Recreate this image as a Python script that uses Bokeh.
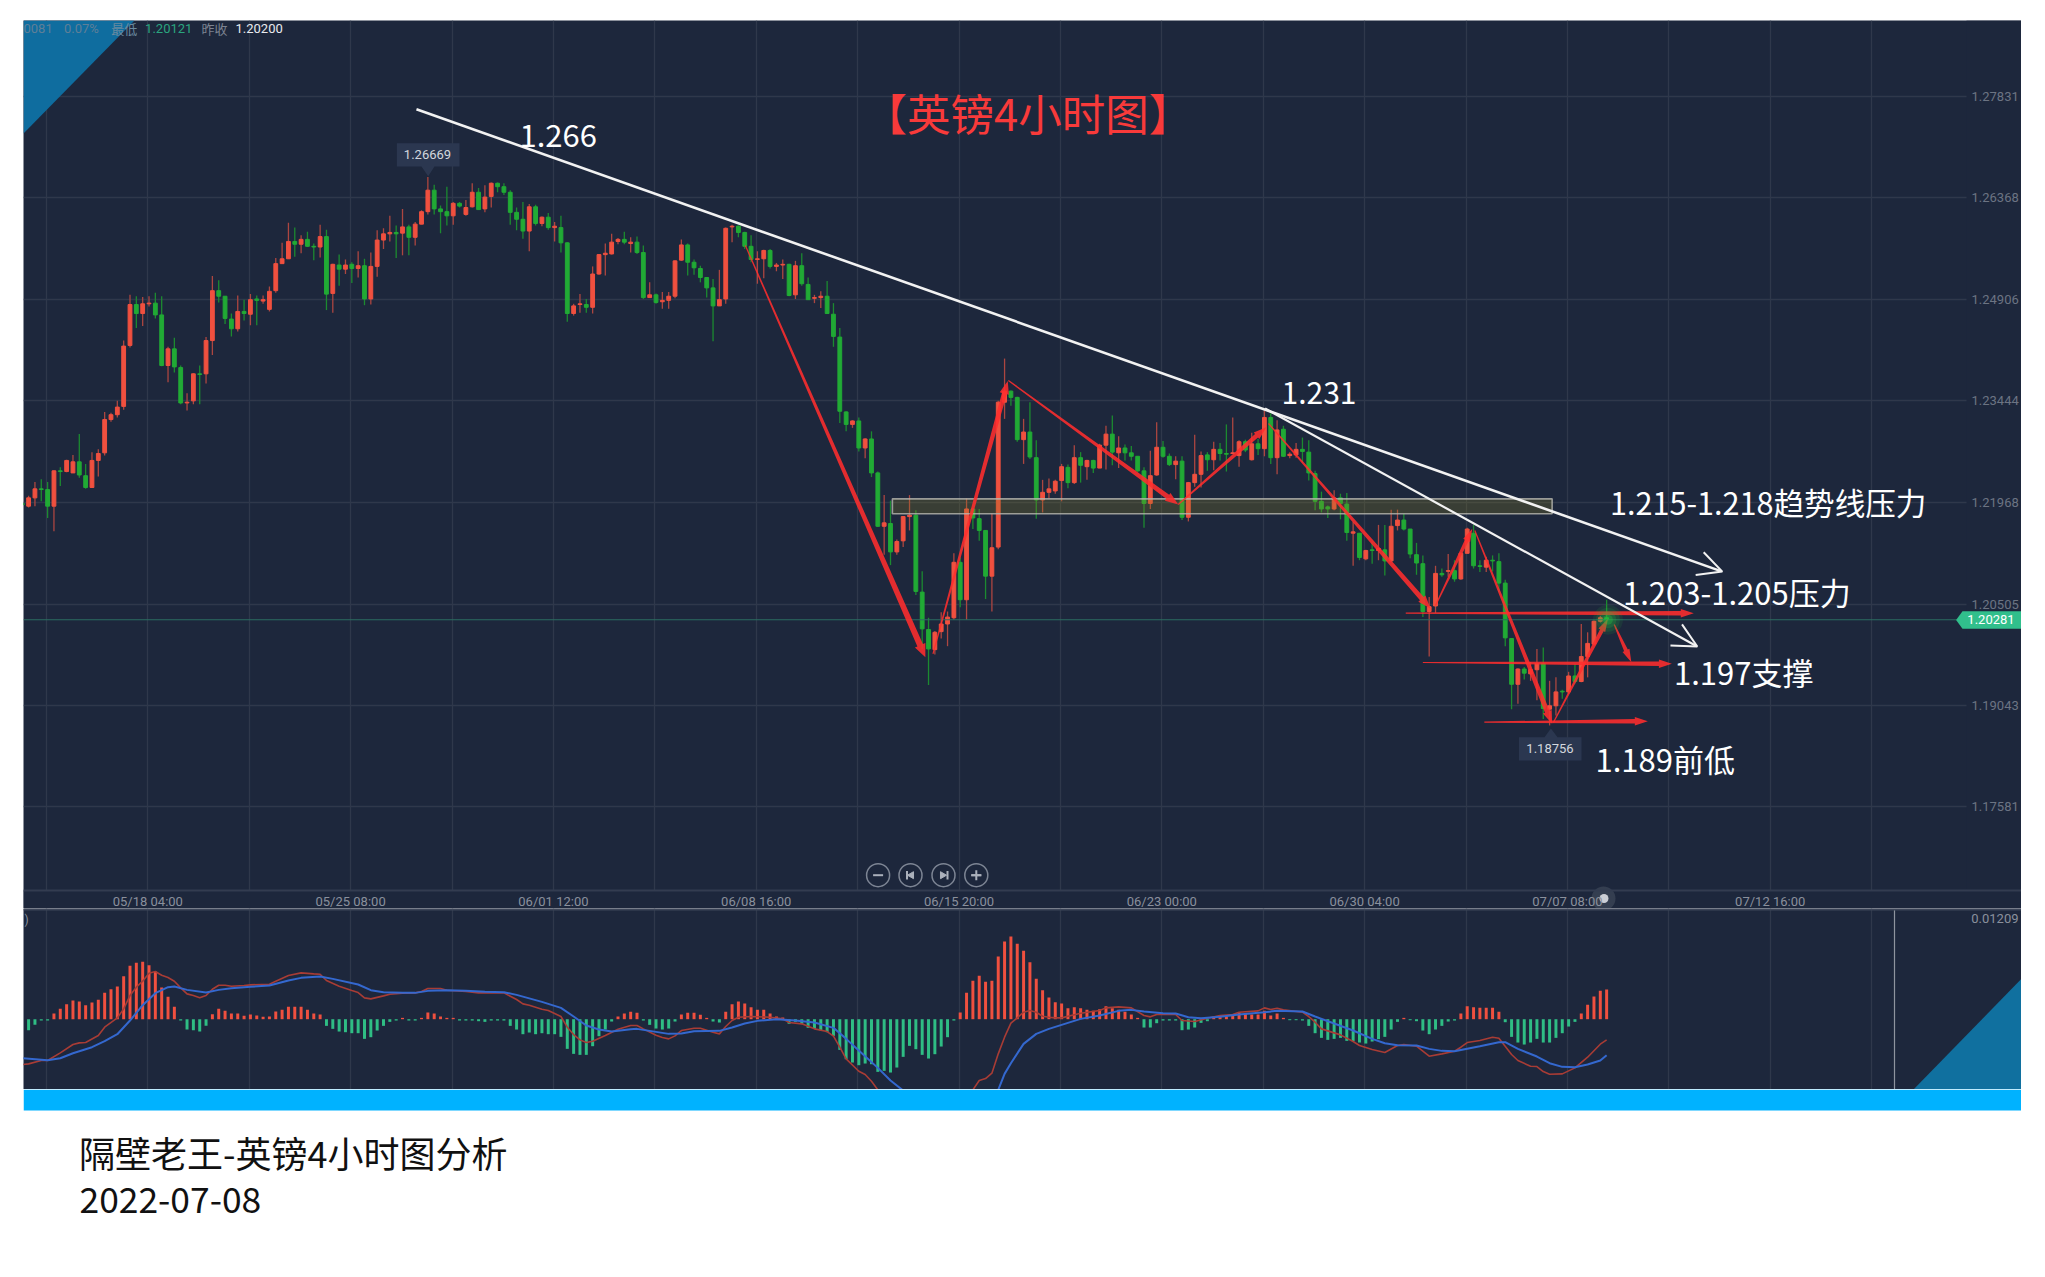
from bokeh.embed import file_html
from bokeh.resources import INLINE
from bokeh.plotting import figure
from bokeh.layouts import column
from bokeh.models import (Range1d, Label, Span, FixedTicker, Arrow, OpenHead, ColumnDataSource)
import math

# ---------------- data ----------------
opens = [1.2196,1.2192,1.2204,1.2217,1.2216,1.2192,1.2243,1.2242,1.2240,1.2256,
1.2236,1.2219,1.2258,1.2269,1.2317,1.2324,1.2336,1.2424,1.2483,1.2470,
1.2484,1.2485,1.2468,1.2395,1.2419,1.2392,1.2341,1.2344,1.2383,1.2383,
1.2431,1.2503,1.2495,1.2462,1.2448,1.2473,1.2469,1.2491,1.2488,1.2476,
1.2503,1.2542,1.2549,1.2574,1.2570,1.2577,1.2567,1.2566,1.2581,1.2499,
1.2540,1.2534,1.2541,1.2535,1.2539,1.2491,1.2538,1.2576,1.2585,1.2587,
1.2586,1.2595,1.2580,1.2599,1.2617,1.2648,1.2621,1.2617,1.2611,1.2629,
1.2613,1.2624,1.2645,1.2621,1.2639,1.2658,1.2653,1.2645,1.2616,1.2606,
1.2589,1.2624,1.2600,1.2609,1.2594,1.2594,1.2572,1.2470,1.2483,1.2483,
1.2479,1.2527,1.2555,1.2556,1.2574,1.2577,1.2571,1.2573,1.2558,1.2493,
1.2497,1.2487,1.2489,1.2495,1.2547,1.2569,1.2544,1.2535,1.2522,1.2507,
1.2481,1.2491,1.2595,1.2596,1.2587,1.2567,1.2548,1.2549,1.2561,1.2538,
1.2540,1.2541,1.2497,1.2539,1.2512,1.2492,1.2493,1.2495,1.2469,1.2436,
1.2328,1.2310,1.2315,1.2276,1.2289,1.2240,1.2163,1.2167,1.2126,1.2142,
1.2177,1.2179,1.2068,1.2014,1.1985,1.2011,1.2022,1.2031,1.2111,1.2057,
1.2188,1.2174,1.2157,1.2091,1.2133,1.2342,1.2358,1.2349,1.2288,1.2299,
1.2262,1.2201,1.2212,1.2214,1.2229,1.2248,1.2226,1.2262,1.2249,1.2258,
1.2247,1.2280,1.2296,1.2269,1.2276,1.2269,1.2264,1.2243,1.2196,1.2237,
1.2277,1.2264,1.2252,1.2257,1.2176,1.2226,1.2238,1.2266,1.2259,1.2274,
1.2268,1.2268,1.2265,1.2285,1.2259,1.2282,1.2275,1.2320,1.2262,1.2303,
1.2265,1.2266,1.2274,1.2270,1.2239,1.2199,1.2191,1.2188,1.2204,1.2195,
1.2153,1.2153,1.2116,1.2129,1.2128,1.2129,1.2113,1.2164,1.2172,1.2159,
1.2122,1.2109,1.2040,1.2048,1.2095,1.2098,1.2099,1.2087,1.2124,1.2153,
1.2106,1.2104,1.2114,1.2112,1.2081,1.2001,1.1935,1.1957,1.1950,1.1956,
1.1965,1.1899,1.1904,1.1925,1.1924,1.1947,1.1939,1.1975,1.1993,1.2026,1.2031]
highs = [1.2199,1.2207,1.2227,1.2231,1.2227,1.2244,1.2248,1.2259,1.2266,1.2296,
1.2253,1.2270,1.2274,1.2328,1.2327,1.2344,1.2431,1.2497,1.2495,1.2494,
1.2495,1.2500,1.2495,1.2422,1.2435,1.2395,1.2355,1.2384,1.2395,1.2436,
1.2524,1.2518,1.2495,1.2470,1.2496,1.2490,1.2498,1.2496,1.2496,1.2509,
1.2550,1.2572,1.2601,1.2594,1.2583,1.2588,1.2571,1.2598,1.2591,1.2542,
1.2555,1.2548,1.2544,1.2560,1.2549,1.2558,1.2590,1.2593,1.2611,1.2597,
1.2621,1.2598,1.2602,1.2619,1.26669,1.2656,1.2626,1.2653,1.2631,1.2631,
1.2634,1.2658,1.2651,1.2655,1.2659,1.2659,1.2658,1.2648,1.2623,1.2631,
1.2628,1.2627,1.2610,1.2615,1.2602,1.2611,1.2573,1.2484,1.2498,1.2491,
1.2538,1.2556,1.2571,1.2585,1.2579,1.2588,1.2580,1.2581,1.2568,1.2515,
1.2499,1.2501,1.2501,1.2547,1.2577,1.2571,1.2548,1.2539,1.2522,1.2520,
1.2533,1.2594,1.2598,1.2597,1.2588,1.2583,1.2560,1.2562,1.2563,1.2543,
1.2548,1.2542,1.2546,1.2557,1.2522,1.2497,1.2502,1.2517,1.2485,1.2449,
1.2329,1.2316,1.2320,1.2290,1.2300,1.2242,1.2208,1.2200,1.2144,1.2178,
1.2208,1.2186,1.2098,1.2031,1.2012,1.2039,1.2040,1.2124,1.2118,1.2203,
1.2189,1.2188,1.2157,1.2181,1.2344,1.2405,1.2359,1.2350,1.2318,1.2342,
1.2287,1.2230,1.2232,1.2230,1.2253,1.2252,1.2280,1.2270,1.2259,1.2259,
1.2282,1.2308,1.2323,1.2293,1.2281,1.2279,1.2264,1.2248,1.2272,1.2313,
1.2286,1.2268,1.2264,1.2264,1.2227,1.2295,1.2271,1.2270,1.2285,1.2283,
1.2310,1.2320,1.2287,1.2288,1.2298,1.2289,1.2330,1.2326,1.2316,1.2308,
1.2270,1.2283,1.2291,1.2287,1.2243,1.2213,1.2193,1.2215,1.2210,1.2211,
1.2169,1.2153,1.2129,1.2140,1.2165,1.2165,1.2187,1.2187,1.2181,1.2159,
1.2139,1.2121,1.2061,1.2106,1.2102,1.2123,1.2114,1.2125,1.2161,1.2165,
1.2114,1.2119,1.2121,1.2124,1.2086,1.2001,1.1958,1.1960,1.1967,1.1986,
1.1988,1.1940,1.1945,1.1927,1.1953,1.1964,1.2022,1.2010,1.2027,1.2034,1.2057]
lows = [1.2191,1.2190,1.2192,1.2199,1.2175,1.2156,1.2221,1.2241,1.2240,1.2233,
1.2217,1.2219,1.2235,1.2265,1.2314,1.2320,1.2331,1.2421,1.2449,1.2452,
1.2480,1.2463,1.2394,1.2371,1.2385,1.2339,1.2330,1.2339,1.2339,1.2369,
1.2410,1.2486,1.2455,1.2437,1.2444,1.2460,1.2453,1.2453,1.2484,1.2473,
1.2500,1.2542,1.2549,1.2552,1.2557,1.2566,1.2547,1.2551,1.2475,1.2471,
1.2510,1.2527,1.2514,1.2522,1.2482,1.2483,1.2523,1.2563,1.2574,1.2550,
1.2554,1.2554,1.2568,1.2599,1.2613,1.2613,1.2586,1.2597,1.2598,1.2623,
1.2611,1.2623,1.2620,1.2616,1.2623,1.2645,1.2641,1.2598,1.2590,1.2578,
1.2560,1.2597,1.2596,1.2591,1.2574,1.2558,1.2458,1.2467,1.2471,1.2471,
1.2470,1.2526,1.2525,1.2555,1.2570,1.2570,1.2558,1.2556,1.2491,1.2493,
1.2484,1.2477,1.2477,1.2492,1.2546,1.2525,1.2526,1.2515,1.2493,1.2430,
1.2481,1.2484,1.2573,1.2580,1.2563,1.2544,1.2513,1.2521,1.2535,1.2531,
1.2520,1.2495,1.2491,1.2510,1.2490,1.2485,1.2478,1.2470,1.2422,1.2312,
1.2300,1.2305,1.2271,1.2261,1.2234,1.2162,1.2122,1.2107,1.2122,1.2133,
1.2157,1.2064,1.1986,1.1934,1.1978,1.2001,1.1990,1.2028,1.2046,1.2028,
1.2159,1.2142,1.2058,1.2040,1.2130,1.2318,1.2337,1.2285,1.2253,1.2260,
1.2174,1.2183,1.2203,1.2210,1.2199,1.2218,1.2224,1.2226,1.2230,1.2240,
1.2247,1.2245,1.2251,1.2247,1.2258,1.2258,1.2241,1.2161,1.2188,1.2236,
1.2262,1.2250,1.2231,1.2172,1.2170,1.2220,1.2219,1.2243,1.2244,1.2258,
1.2242,1.2268,1.2249,1.2270,1.2258,1.2266,1.2264,1.2253,1.2238,1.2263,
1.2261,1.2262,1.2255,1.2229,1.2186,1.2183,1.2175,1.2186,1.2173,1.2142,
1.2106,1.2114,1.2114,1.2109,1.2114,1.2092,1.2111,1.2157,1.2157,1.2117,
1.2093,1.2032,1.1975,1.2038,1.2090,1.2090,1.2083,1.2086,1.2124,1.2102,
1.2097,1.2097,1.2098,1.2068,1.1990,1.1899,1.1907,1.1942,1.1940,1.1912,
1.1885,1.18756,1.1890,1.1914,1.1921,1.1936,1.1938,1.1945,1.1991,1.2024,1.2023]
closes = [1.2194,1.2204,1.2217,1.2216,1.2192,1.2243,1.2242,1.2258,1.2256,1.2237,
1.2219,1.2258,1.2268,1.2317,1.2324,1.2335,1.2423,1.2483,1.2470,1.2484,
1.2485,1.2468,1.2395,1.2419,1.2393,1.2341,1.2342,1.2383,1.2382,1.2431,
1.2503,1.2495,1.2463,1.2448,1.2473,1.2470,1.2490,1.2489,1.2490,1.2502,
1.2542,1.2549,1.2574,1.2570,1.2577,1.2567,1.2566,1.2581,1.2498,1.2541,
1.2534,1.2540,1.2535,1.2539,1.2491,1.2538,1.2576,1.2585,1.2587,1.2585,
1.2595,1.2580,1.2599,1.2617,1.2648,1.2621,1.2617,1.2611,1.2629,1.2625,
1.2623,1.2645,1.2620,1.2638,1.2658,1.2653,1.2645,1.2616,1.2606,1.2589,
1.2624,1.2600,1.2609,1.2594,1.2596,1.2572,1.2470,1.2481,1.2484,1.2479,
1.2527,1.2555,1.2557,1.2573,1.2577,1.2573,1.2573,1.2558,1.2493,1.2497,
1.2486,1.2489,1.2495,1.2546,1.2569,1.2544,1.2536,1.2522,1.2507,1.2481,
1.2490,1.2593,1.2596,1.2587,1.2567,1.2548,1.2549,1.2561,1.2538,1.2540,
1.2541,1.2496,1.2539,1.2513,1.2490,1.2493,1.2495,1.2470,1.2437,1.2329,
1.2310,1.2315,1.2276,1.2289,1.2240,1.2163,1.2168,1.2126,1.2141,1.2177,
1.2179,1.2069,1.2015,1.1986,1.2010,1.2022,1.2032,1.2111,1.2057,1.2188,
1.2175,1.2157,1.2091,1.2132,1.2342,1.2358,1.2349,1.2288,1.2299,1.2263,
1.2201,1.2212,1.2217,1.2228,1.2249,1.2226,1.2262,1.2251,1.2258,1.2247,
1.2280,1.2296,1.2270,1.2276,1.2269,1.2264,1.2243,1.2196,1.2236,1.2277,
1.2264,1.2252,1.2257,1.2176,1.2226,1.2238,1.2265,1.2259,1.2274,1.2268,
1.2267,1.2269,1.2285,1.2273,1.2282,1.2275,1.2320,1.2262,1.2302,1.2264,
1.2267,1.2274,1.2271,1.2240,1.2199,1.2188,1.2188,1.2204,1.2196,1.2154,
1.2155,1.2118,1.2128,1.2128,1.2131,1.2113,1.2163,1.2172,1.2159,1.2123,
1.2110,1.2040,1.2047,1.2095,1.2093,1.2099,1.2087,1.2124,1.2159,1.2106,
1.2105,1.2114,1.2113,1.2081,1.2002,1.1935,1.1957,1.1951,1.1956,1.1965,
1.1900,1.1904,1.1924,1.1924,1.1947,1.1939,1.1975,1.1994,1.2026,1.2031,1.20281]
first_candle = -1
current_price = 1.20281

# MACD histogram, in units of 0.00001, from candle 0
macd_hist_e5 = [-132,-68,-16,-16,68,124,180,224,212,168,
200,232,316,360,392,516,640,676,688,648,
572,380,268,148,-16,-124,-132,-148,-80,60,
124,100,68,68,40,56,44,28,32,92,
112,148,148,148,112,68,56,-80,-116,-148,
-156,-168,-168,-236,-216,-136,-80,-32,-16,16,
-16,-16,16,80,68,32,16,16,-16,-16,
-16,-24,-32,-16,-16,-16,-80,-124,-180,-160,
-180,-168,-180,-180,-212,-356,-416,-428,-428,-324,
-204,-124,-28,32,68,88,76,-16,-68,-112,
-124,-112,-28,56,76,76,52,16,-28,-40,
88,180,212,188,144,112,112,68,32,20,
-56,-32,-56,-104,-116,-136,-156,-200,-368,-480,
-520,-552,-532,-540,-632,-620,-640,-580,-452,-320,
-360,-428,-472,-420,-328,-216,-16,80,316,460,
520,448,460,752,932,992,904,820,684,484,
348,260,204,188,132,144,132,112,100,120,
156,132,112,88,56,16,-100,-100,-48,-16,
-16,-16,-132,-124,-100,-44,-24,32,44,32,
44,80,68,56,56,100,44,68,16,-12,
-12,-16,-80,-168,-224,-248,-236,-224,-260,-264,
-280,-292,-268,-240,-212,-124,-32,16,-12,-24,
-136,-180,-124,-80,-28,-16,68,156,144,136,
136,136,88,-36,-212,-280,-304,-280,-236,-280,
-280,-224,-168,-88,-32,68,172,272,340,356]

dif_idx = [-1,0,2,3,5,7,8,9,11,12,14,15,16,17,18,19,20,21,22,23,24,25,26,27,28,29,30,31,32,34,35,38,39,41,43,45,46,47,49,51,52,53,54,56,57,59,61,62,63,65,66,69,71,73,75,77,78,79,81,
82,84,85,86,87,88,89,91,93,95,96,97,99,100,101,102,103,105,106,108,109,110,111,112,114,117,119,120,122,124,126,127,128,129,131,132,133,134,136,140,144,147,149,150,151,152,153,154,155,156,157,158,159,160,161,162,
163,166,169,170,172,174,176,177,178,181,182,184,186,188,190,191,194,195,196,197,198,201,202,203,204,205,207,209,210,212,214,216,217,219,221,223,225,226,227,229,231,232,234,235,237,238,239,240,242,244,246,248,249]
dif_e5 = [-544,-536,-496,-496,-404,-304,-284,-280,-196,-96,16,124,284,384,456,552,572,528,500,456,376,304,284,256,284,360,408,408,396,404,412,420,456,524,556,544,540,464,396,344,320,256,244,280,300,312,316,332,368,368,348,332,316,316,316,236,184,168,120,
104,32,-96,-184,-248,-280,-264,-196,-120,-76,-76,-116,-192,-220,-236,-200,-136,-108,-108,-156,-176,-88,-16,24,32,24,4,-40,-56,-116,-148,-204,-336,-476,-624,-664,-744,-848,-1060,-1400,-1500,-1300,-848,-736,-712,-648,-416,-216,-48,16,84,104,84,36,24,16,
16,72,104,136,148,136,44,28,56,56,-16,-28,12,44,56,84,100,136,116,132,112,84,32,-36,-116,-140,-188,-268,-316,-364,-400,-316,-304,-324,-444,-416,-384,-336,-280,-256,-216,-228,-424,-496,-564,-568,-628,-660,-656,-584,-456,-300,-248]

dea_idx = [-1,3,5,7,10,12,14,16,18,20,22,23,25,28,30,32,35,38,41,43,46,48,52,54,56,59,61,63,66,69,72,75,77,81,
84,86,88,90,92,95,96,99,101,103,105,109,111,113,115,118,121,124,127,129,131,134,136,138,142,147,151,153,154,155,157,159,161,163,
166,169,172,174,176,179,181,183,185,188,191,195,197,201,203,206,209,212,214,216,219,221,223,225,229,232,233,235,238,240,242,244,246,248,249]
dea_e5 = [-468,-492,-468,-408,-336,-264,-180,-16,168,312,384,392,352,320,352,372,388,404,464,496,512,484,416,348,324,316,316,340,348,340,328,324,292,208,
136,32,-76,-124,-148,-120,-116,-152,-176,-172,-144,-140,-100,-52,-20,0,-16,-40,-104,-236,-376,-584,-736,-856,-1050,-1250,-1100,-848,-656,-528,-296,-176,-116,-68,
4,44,100,112,92,72,68,24,12,28,56,84,100,92,32,-52,-136,-236,-288,-312,-316,-356,-380,-384,-324,-276,-276,-356,-448,-528,-572,-576,-544,-496,-432]

price_ticks = [1.27831,1.26368,1.24906,1.23444,1.21968,1.20505,1.19043,1.17581]
time_tick_candles = [19,51,83,115,147,179,211,243,275]
time_labels = ["05/18 04:00","05/25 08:00","06/01 12:00","06/08 16:00","06/15 20:00","06/23 00:00","06/30 04:00","07/07 08:00","07/12 16:00"]
grid_candles = [3,19,35,51,67,83,99,115,131,147,163,179,195,211,227,243,259,275,291]

# trend lines, arrows: (candle, price) -> (candle, price)
trend_white = [(61.2,1.27648,267.25,1.20976,2.6),(195.1,1.23330,263.3,1.19895,2.2)]
red_arrows = [(113.1,1.25682,141.5,1.19741,6),(142.7,1.19790,154.5,1.23726,5),
(154.6,1.23734,181.4,1.21944,5),(181.4,1.21944,195.3,1.23060,4.5),
(195.65,1.23113,221.2,1.20444,5),(222,1.20487,227.8,1.21594,4),
(228.2,1.21569,240.4,1.18780,5),(240.6,1.18799,249.2,1.20295,4),
(250.2,1.20213,252.9,1.19669,4),(217.3,1.20376,262.75,1.20376,4.5),
(220,1.19664,259.3,1.19646,4.5),(229.7,1.18803,255.5,1.18818,4.5)]
zone_left, zone_right, zone_top, zone_bottom = 136.3, 240.4, 1.22026, 1.21810

# ---------------- styling ----------------
BG = "#1d273c"; GRID = "#2f384b"; RED = "#f0503f"; GREEN = "#21aa35"
WICK_R = "#ac4640"; WICK_G = "#1c8a30"
CJK = "Noto Sans CJK SC"; NUM = "Roboto"
W = 1998

# reference-pixel helpers, for decoration only
dx = lambda px: (px - 28.1) / 6.3375
dy = lambda py: 1.29217 - 0.0001443 * py
to_px = lambda i: 28.1 + i * 6.3375
to_py = lambda p: (1.29217 - p) / 0.0001443
dm = lambda py: (1018.7 - py) * 1.2e-4

def lab(fig, x, y, text, size, color, font=CJK, align="left", **kw):
    fig.add_layout(Label(x=x, y=y, text=text, text_font_size=f"{size}px", text_color=color,
                         text_font=font, text_align=align, text_baseline="middle", **kw))

# ---------------- price pane ----------------
p = figure(width=W, height=888, output_backend="svg", toolbar_location=None, tools="",
           x_range=Range1d(dx(23), dx(2021)), y_range=Range1d(dy(908), dy(20)),
           x_axis_location="below", y_axis_location="right",
           background_fill_color=BG, border_fill_color=BG, outline_line_color=None,
           min_border=0)
p.yaxis.ticker = FixedTicker(ticks=price_ticks)
p.yaxis.formatter.use_scientific = False
p.yaxis.major_label_overrides = {t: f"{t:.5f}" for t in price_ticks}
p.xaxis.ticker = FixedTicker(ticks=[c - 0.19 for c in time_tick_candles])
p.xaxis.major_label_overrides = {c - 0.19: s for c, s in zip(time_tick_candles, time_labels)}
p.xgrid.ticker = FixedTicker(ticks=[c - 0.19 for c in grid_candles])
p.grid.grid_line_color = GRID
p.grid.grid_line_width = 1.3
for ax in (p.xaxis[0], p.yaxis[0]):
    ax.major_tick_line_color = None
    ax.minor_tick_line_color = None
    ax.major_label_text_font = NUM
    ax.major_label_text_font_size = "13px"
p.yaxis.fixed_location = dx(1966)
p.yaxis.axis_line_color = None
p.yaxis.major_label_text_color = "#6c7483"
p.yaxis.major_label_standoff = -1
p.xaxis.fixed_location = dy(890)
p.xaxis.axis_line_color = "#333c50"
p.xaxis.axis_line_width = 2
p.xaxis.major_label_text_color = "#8a909c"
p.xaxis.major_label_standoff = -3

# bands that keep the grid out of the scale areas
p.quad(left=dx(1966), right=dx(2021), top=dy(20), bottom=dy(908), color=BG, line_width=0)
p.quad(left=dx(23), right=dx(2021), top=dy(890), bottom=dy(908), color=BG, line_width=0)

# corner triangle
p.patch([dx(23), dx(134), dx(23)], [dy(20), dy(20), dy(133)], color="#0f6d9f", line_width=0)

n = len(opens)
xs = [first_candle + k for k in range(n)]
up = [c >= o for o, c in zip(opens, closes)]
src = ColumnDataSource(dict(x=xs, h=highs, l=lows,
    top=[max(o, c) for o, c in zip(opens, closes)],
    bot=[min(o, c) for o, c in zip(opens, closes)],
    fill=[RED if u else GREEN for u in up],
    wick=[WICK_R if u else WICK_G for u in up]))
p.segment("x", "h", "x", "l", source=src, color="wick", line_width=1.3)
p.vbar("x", top="top", bottom="bot", width=0.6, source=src, fill_color="fill", line_color="fill", line_width=1)

# current price line
p.line([dx(23), dx(1966)], [current_price, current_price], color="#2b6d60", line_width=1)

# zone
p.quad(left=zone_left, right=zone_right, top=zone_top, bottom=zone_bottom,
       fill_color="#918320", fill_alpha=0.25, line_color="#b8b8b0", line_alpha=0.8, line_width=1.6)

# white trend lines with open heads
for x0, y0, x1, y1, w in trend_white:
    p.add_layout(Arrow(end=OpenHead(size=24, line_color="#f2f2f2", line_width=2),
                       x_start=x0, y_start=y0, x_end=x1, y_end=y1, line_color="#f2f2f2", line_width=w))

# tapered red arrows
def taper(x0, y0, x1, y1, w):
    a, b, c, d = to_px(x0), to_py(y0), to_px(x1), to_py(y1)
    L = math.hypot(c - a, d - b)
    ux, uy = (c - a) / L, (d - b) / L
    nx, ny = -uy, ux
    hl, hw = min(13, L * 0.4), w * 0.95
    mx, my = c - ux * hl, d - uy * hl
    pts = [(a + nx * .6, b + ny * .6), (mx + nx * w / 2, my + ny * w / 2), (mx + nx * hw, my + ny * hw),
           (c, d), (mx - nx * hw, my - ny * hw), (mx - nx * w / 2, my - ny * w / 2), (a - nx * .6, b - ny * .6)]
    return [dx(q[0]) for q in pts], [dy(q[1]) for q in pts]
polys = [taper(*t) for t in red_arrows]
p.patches([q[0] for q in polys], [q[1] for q in polys], color="#ff2e2e", alpha=0.88, line_width=0)

# glow of the last price
for size, alpha in ((30, .10), (24, .14), (17, .2), (10, .35)):
    p.scatter([249.2], [current_price], size=size, color="#29c23f", alpha=alpha, line_width=0)

# value tags
p.patch([dx(396.4), dx(459), dx(459), dx(434), dx(427.7), dx(421), dx(396.4)],
        [dy(142.7), dy(142.7), dy(166), dy(166), dy(175.7), dy(166), dy(166)], color="#2b3750", line_width=0)
lab(p, dx(427), dy(154), "1.26669", 13, "#d3d7de", NUM, "center")
p.patch([dx(1518.5), dx(1544), dx(1550.4), dx(1557), dx(1581), dx(1581), dx(1518.5)],
        [dy(736.7), dy(736.7), dy(728), dy(736.7), dy(736.7), dy(760), dy(760)], color="#2b3750", line_width=0)
lab(p, dx(1549.5), dy(747.5), "1.18756", 13, "#d3d7de", NUM, "center")

# chart buttons
bx = [877.6, 910, 943, 975.8]
p.scatter([dx(v) for v in bx], [dy(874.7)] * 4, size=23, fill_color=BG, line_color="#7d8594", line_width=1.5)
p.scatter([dx(877.6), dx(975.8)], [dy(874.7)] * 2, marker="dash", size=10, line_color="#aab0bb", line_width=2)
p.scatter([dx(975.8)], [dy(874.7)], marker="cross", size=10, line_color="#aab0bb", line_width=2)
p.scatter([dx(911)], [dy(874.7)], marker="triangle", angle=math.pi / 2, size=7, color="#aab0bb")
p.scatter([dx(942)], [dy(874.7)], marker="triangle", angle=-math.pi / 2, size=7, color="#aab0bb")
p.segment([dx(906.5), dx(947)], [dy(870.5)] * 2, [dx(906.5), dx(947)], [dy(879)] * 2, color="#aab0bb", line_width=2)

# right price tag
tag_x = [1955.6, 1962, 2021, 2021, 1962]
tag_y = [619.5, 610.7, 610.7, 628.3, 628.3]
p.patch([dx(v) for v in tag_x], [dy(v) for v in tag_y], color="#31bf8c", line_width=0)
lab(p, dx(1990.5), dy(619), "1.20281", 13, "#ffffff", NUM, "center")

# header texts
for x, t, c, fnt in ((23, "0081", "#5f7f97", NUM), (63.4, "0.07%", "#5f7f97", NUM), (110.7, "最低", "#6a8aa0", CJK),
                (144.6, "1.20121", "#2aa57f", NUM), (201, "昨收", "#7c8391", CJK), (235, "1.20200", "#e8eaee", NUM)):
    lab(p, dx(x), dy(28), t, 13, c, fnt)

# annotation texts
lab(p, dx(863), dy(112), "【英镑4小时图】", 43.5, "#f83a3a")
for x, y, t, s in ((519, 134.5, "1.266", 31), (1281, 392.5, "1.231", 30), (1609.5, 501.5, "1.215-1.218趋势线压力", 30.6),
                   (1622.5, 590.5, "1.203-1.205压力", 31), (1673.5, 671, "1.197支撑", 31), (1595, 757.5, "1.189前低", 31)):
    lab(p, dx(x), dy(y), t, s, "#ffffff")

# scrubber dot on the time axis
p.scatter([dx(1603)], [dy(898)], size=24, color="#8a909c", alpha=0.22, line_width=0)
p.scatter([dx(1603.5)], [dy(898)], size=9, color="#e6e8ec", alpha=0.85, line_width=0)

# ---------------- MACD pane ----------------
m = figure(width=W, height=181, output_backend="svg", toolbar_location=None, tools="",
           x_range=Range1d(dx(23), dx(2021)), y_range=Range1d(dm(1089), dm(908)),
           background_fill_color=BG, border_fill_color=BG, outline_line_color=None, min_border=0)
m.axis.visible = False
m.ygrid.visible = False
m.xgrid.ticker = FixedTicker(ticks=[c - 0.19 for c in grid_candles])
m.xgrid.grid_line_color = GRID
m.xgrid.grid_line_width = 1.3
m.patch([dx(1913), dx(2021), dx(2021)], [dm(1089), dm(978.3), dm(1089)], color="#10709f", line_width=0)
hist = [v * 1e-5 for v in macd_hist_e5]
hs = ColumnDataSource(dict(x=list(range(len(hist))), top=hist,
                           c=["#f0503f" if v > 0 else "#2fbd84" for v in hist]))
m.vbar("x", top="top", bottom=0, width=0.47, source=hs, fill_color="c", line_color=None)
m.line(dif_idx, [v * 1e-5 for v in dif_e5], color="#a83c35", line_width=1.6)
m.line(dea_idx, [v * 1e-5 for v in dea_e5], color="#3468cf", line_width=2)
m.add_layout(Span(location=dx(1894), dimension="height", line_color="#8e949f", line_width=1.2))
m.add_layout(Span(location=dm(909), dimension="width", line_color="#3d4659", line_width=2))
lab(m, dx(2018), dm(918), "0.01209", 13, "#8a909c", NUM, "right")
lab(m, dx(24), dm(919), ")", 12, "#8a909c", NUM)

# ---------------- footer ----------------
f = figure(width=W, height=180, output_backend="svg", toolbar_location=None, tools="",
           x_range=Range1d(0, W), y_range=Range1d(180, 0), outline_line_color=None, min_border=0,
           background_fill_color="#ffffff", border_fill_color="#ffffff")
f.axis.visible = False
f.grid.visible = False
f.quad(left=0, right=W, top=0, bottom=21, color="#00b2ff", line_width=0)
lab(f, 55.5, 62, "隔壁老王-英镑4小时图分析", 36, "#111111")
lab(f, 56, 110, "2022-07-08", 35.4, "#111111")

page = column(p, m, f, margin=(20, 0, 0, 23), spacing=0)
open("out.html", "w").write(file_html(page, INLINE))
